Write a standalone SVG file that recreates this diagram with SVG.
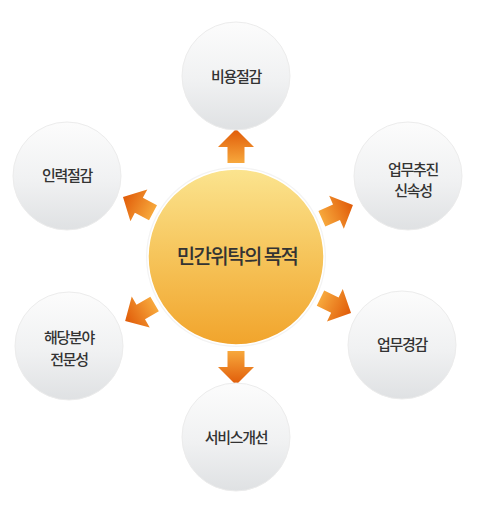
<svg xmlns="http://www.w3.org/2000/svg" width="478" height="517" viewBox="0 0 478 517">
<defs>
<linearGradient id="gOuter" x1="0" y1="0" x2="0" y2="1">
<stop offset="0" stop-color="#fcfcfc"/>
<stop offset="0.55" stop-color="#f0f1f2"/>
<stop offset="1" stop-color="#dfe1e3"/>
</linearGradient>
<linearGradient id="gCenter" x1="0" y1="0" x2="0" y2="1">
<stop offset="0" stop-color="#fbe48f"/>
<stop offset="0.5" stop-color="#f6c45a"/>
<stop offset="1" stop-color="#f1a42c"/>
</linearGradient>
<linearGradient id="gArrow" x1="0" y1="0" x2="0" y2="1">
<stop offset="0" stop-color="#e05a08"/>
<stop offset="1" stop-color="#f7a83c"/>
</linearGradient>
<polygon id="arrow" points="0,-128 -18,-110 -8.5,-110 -8.5,-94 8.5,-94 8.5,-110 18,-110" fill="url(#gArrow)"/>
</defs>
<style>
.outer{fill:url(#gOuter);stroke:#ececec;stroke-width:1}
.lbl{font-family:"Noto Sans CJK KR","Noto Sans",sans-serif;font-size:15px;font-weight:500;fill:#333;text-anchor:middle;letter-spacing:-1.3px}
.ctr{font-family:"Noto Sans CJK KR","Noto Sans",sans-serif;font-size:20px;font-weight:500;fill:#333;text-anchor:middle;letter-spacing:-1.6px}
</style>
<rect width="478" height="517" fill="#ffffff"/>
<g id="connectors" transform="translate(236,257)">
<use href="#arrow"/>
<use href="#arrow" transform="rotate(180)"/>
<use href="#arrow" transform="rotate(66)"/>
<use href="#arrow" transform="rotate(116)"/>
<use href="#arrow" transform="rotate(-120)"/>
<use href="#arrow" transform="rotate(-62)"/>
</g>
<g id="center">
<circle cx="236" cy="257" r="90" fill="#f3f3f3"/>
<circle cx="236" cy="257" r="88" fill="url(#gCenter)" stroke="#ffffff" stroke-width="1.5"/>
<text class="ctr" x="237" y="264">민간위탁의 목적</text>
</g>
<g id="n-top">
<circle class="outer" cx="236" cy="76" r="54"/>
<text class="lbl" x="236" y="82">비용절감</text>
</g>
<g id="n-lefttop">
<circle class="outer" cx="67" cy="176" r="54"/>
<text class="lbl" x="67" y="181">인력절감</text>
</g>
<g id="n-righttop">
<circle class="outer" cx="408" cy="176" r="54"/>
<text class="lbl" x="413" y="175">업무추진</text>
<text class="lbl" x="413" y="196">신속성</text>
</g>
<g id="n-leftbottom">
<circle class="outer" cx="69" cy="346" r="54"/>
<text class="lbl" x="69" y="343">해당분야</text>
<text class="lbl" x="69" y="365">전문성</text>
</g>
<g id="n-rightbottom">
<circle class="outer" cx="402" cy="345" r="54"/>
<text class="lbl" x="402" y="350">업무경감</text>
</g>
<g id="n-bottom">
<circle class="outer" cx="236" cy="437" r="54"/>
<text class="lbl" x="236" y="443">서비스개선</text>
</g>
</svg>
